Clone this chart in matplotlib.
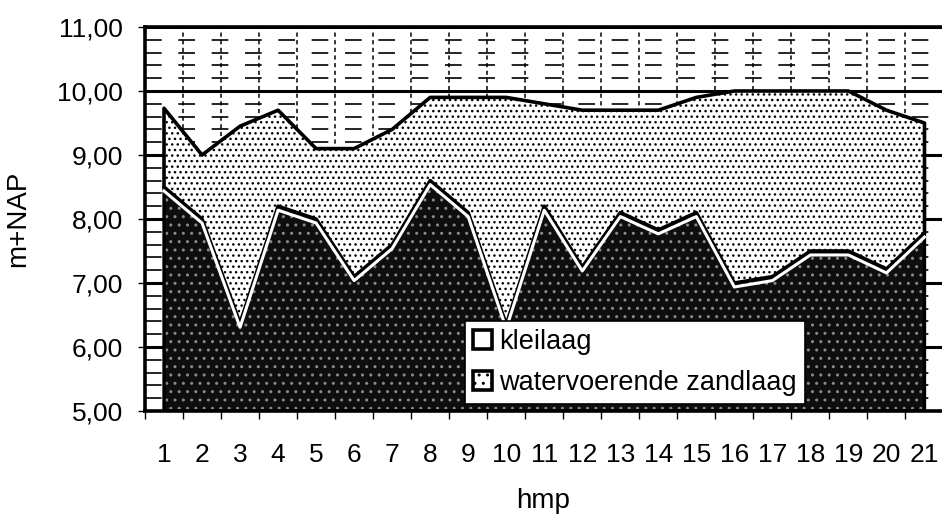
import matplotlib
matplotlib.use('Agg')

import matplotlib.pyplot as plt
import matplotlib.transforms as mtransforms
from matplotlib.patches import Patch
from matplotlib.ticker import MultipleLocator, FixedLocator, FuncFormatter

plt.rcParams['font.family'] = 'Liberation Sans'
plt.rcParams['lines.scale_dashes'] = False

# hectometre posts along the dike
hmp = list(range(1, 22))
# top of the clay layer (m+NAP)
maaiveld = [9.73, 9.00, 9.45, 9.70, 9.10, 9.10, 9.40, 9.90, 9.90, 9.90, 9.80,
            9.70, 9.70, 9.70, 9.90, 10.00, 10.00, 10.00, 10.00, 9.70, 9.50]
# top of the water-bearing sand layer (m+NAP)
bovenkant_zand = [8.50, 8.00, 6.37, 8.20, 8.00, 7.10, 7.60, 8.60, 8.10, 6.35, 8.20,
                  7.25, 8.10, 7.83, 8.10, 7.00, 7.10, 7.50, 7.50, 7.22, 7.78]
basis = 5.0

fig = plt.figure(figsize=(9.42, 5.15), dpi=100)
ax = fig.add_axes([145 / 942, 104 / 515, 798.5 / 942, 384 / 515])

ax.set_xlim(0.5, 21.5)
ax.set_ylim(5, 11)

# categories in the middle, tick marks between them
ax.set_xticks(hmp)
ax.xaxis.set_minor_locator(FixedLocator([h - 0.5 for h in hmp] + [hmp[-1] + 0.5]))
ax.yaxis.set_major_locator(MultipleLocator(1))
ax.yaxis.set_minor_locator(MultipleLocator(0.2))
ax.yaxis.set_major_formatter(FuncFormatter(lambda v, p: f'{v:.2f}'.replace('.', ',')))

ax.set_axisbelow(True)
ax.yaxis.grid(True, which='major', color='black', lw=2.2)
ax.yaxis.grid(True, which='minor', color='black', lw=1.2, linestyle=(0, (12, 12)))
ax.xaxis.grid(True, which='minor', color='black', lw=1.1, linestyle=(0, (3, 2.5)))
ax.xaxis.grid(False, which='major')

ax.tick_params(axis='x', which='major', length=0, pad=23, labelsize=19)
ax.tick_params(axis='x', which='minor', length=6, width=1, direction='out')
ax.tick_params(axis='y', which='major', length=5, width=1, pad=11, labelsize=19)
ax.tick_params(axis='y', which='minor', length=0)

for side in ['top', 'left', 'bottom', 'right']:
    ax.spines[side].set_linewidth(2.6)

# sand layer: near black with light speckles
ax.fill_between(hmp, basis, bovenkant_zand, facecolor='#0e0e0e', edgecolor='#8a8a8a',
                hatch='..', lw=0, zorder=2)
ax.fill_between(hmp, basis, bovenkant_zand, facecolor='none', edgecolor='black',
                lw=2.4, zorder=3)
# clay layer: light with dark speckles
ax.fill_between(hmp, bovenkant_zand, maaiveld, facecolor='white', edgecolor='black',
                hatch='...', lw=2.6, zorder=4)
# white seam just below the clay/sand boundary
below = mtransforms.offset_copy(ax.transData, fig=fig, x=0, y=-4, units='dots')
ax.plot(hmp, bovenkant_zand, color='white', lw=2.2, zorder=5, transform=below)

handles = [Patch(facecolor='white', edgecolor='black', lw=2.6, label='kleilaag'),
           Patch(facecolor='white', edgecolor='black', hatch='..', lw=2.6,
                 label='watervoerende zandlaag')]
leg = ax.legend(handles=handles, loc='lower left', bbox_to_anchor=(0.401, 0.018),
                borderaxespad=0, fontsize=19.5, fancybox=False, edgecolor='black',
                framealpha=1, handlelength=0.7, handleheight=0.7,
                handletextpad=0.25, labelspacing=0.55, borderpad=0.3)
leg.get_frame().set_linewidth(1.2)
leg.set_zorder(10)

ax.set_xlabel('hmp', fontsize=20)
ax.xaxis.set_label_coords(0.498, -0.2)
ax.set_ylabel('m+NAP', fontsize=20)
ax.yaxis.set_label_coords(-0.142, 0.5)

fig.savefig('out.png', dpi=100)
